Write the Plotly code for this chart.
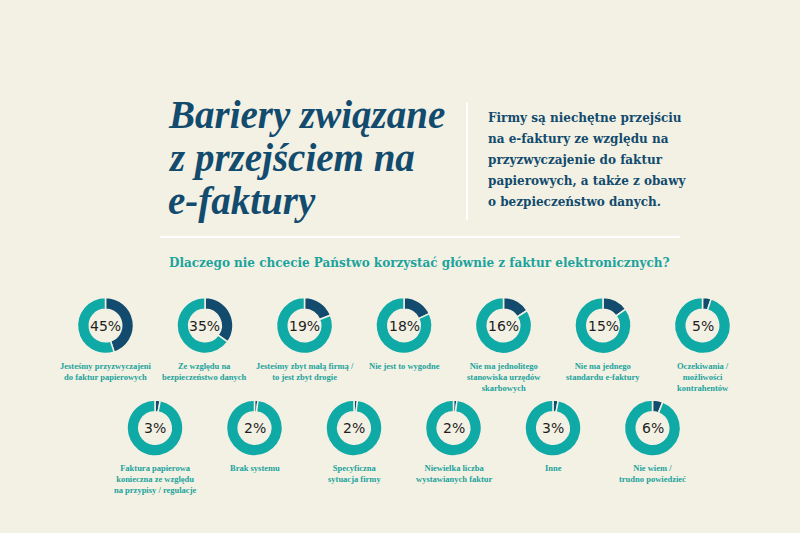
import plotly.graph_objects as go

W, H = 800, 533

# data
title_lines = ["Bariery związane", "z przejściem na", "e-faktury"]
intro_lines = ["Firmy są niechętne przejściu",
               "na e-faktury ze względu na",
               "przyzwyczajenie do faktur",
               "papierowych, a także z obawy",
               "o bezpieczeństwo danych."]
question = "Dlaczego nie chcecie Państwo korzystać głównie z faktur elektronicznych?"

labels = ["Jesteśmy przyzwyczajeni<br>do faktur papierowych",
          "Ze względu na<br>bezpieczeństwo danych",
          "Jesteśmy zbyt małą firmą /<br>to jest zbyt drogie",
          "Nie jest to wygodne",
          "Nie ma jednolitego<br>stanowiska urzędów<br>skarbowych",
          "Nie ma jednego<br>standardu e-faktury",
          "Oczekiwania /<br>możliwości<br>kontrahentów",
          "Faktura papierowa<br>konieczna ze względu<br>na przypisy / regulacje",
          "Brak systemu",
          "Specyficzna<br>sytuacja firmy",
          "Niewielka liczba<br>wystawianych faktur",
          "Inne",
          "Nie wiem /<br>trudno powiedzieć"]
values = [45, 35, 19, 18, 16, 15, 5, 3, 2, 2, 2, 3, 6]

BG = "#f3f1e4"
TEAL = "#10aaa6"
NAVY = "#124b6d"
LABEL = "#1ba39c"


def px(x):
    return x / W


def py(y):
    return 1 - y / H


fig = go.Figure()
annotations = []

R = 28
for i, (lab, v) in enumerate(zip(labels, values)):
    if i < 7:
        cx, cy = 105.5 + 99.5 * i, 325.5
    else:
        cx, cy = 155 + 99.5 * (i - 7), 428
    fig.add_trace(go.Pie(
        values=[v, 100 - v],
        marker=dict(colors=[NAVY, TEAL], line=dict(color=BG, width=1.5)),
        hole=0.58, sort=False, direction="clockwise", rotation=0,
        textinfo="none", hoverinfo="skip", showlegend=False,
        domain=dict(x=[px(cx - R), px(cx + R)], y=[py(cy + R), py(cy - R)]),
    ))
    annotations.append(dict(x=px(cx), y=py(cy), text=f"{v}%", showarrow=False,
                            xanchor="center", yanchor="middle",
                            font=dict(family="DejaVu Sans", size=14, color="#1e1e1e")))
    annotations.append(dict(x=px(cx), y=py(cy + 33), text=lab, showarrow=False,
                            xanchor="center", yanchor="top", align="center",
                            font=dict(family="Liberation Serif", size=8.5, color=LABEL,
                                      weight="bold")))

for k, line in enumerate(title_lines):
    annotations.append(dict(x=px(166), y=py(115 + 43 * k), text=line, showarrow=False,
                            xanchor="left", yanchor="middle",
                            font=dict(family="Liberation Serif", size=39, color=NAVY,
                                      weight="bold", style="italic")))

for k, line in enumerate(intro_lines):
    annotations.append(dict(x=px(486), y=py(118 + 21 * k), text=line, showarrow=False,
                            xanchor="left", yanchor="middle",
                            font=dict(family="DejaVu Serif", size=12, color=NAVY,
                                      weight="bold")))

annotations.append(dict(x=px(167), y=py(263), text=question, showarrow=False,
                        xanchor="left", yanchor="middle",
                        font=dict(family="DejaVu Serif", size=12, color=LABEL,
                                  weight="bold")))

fig.update_layout(
    width=W, height=H,
    margin=dict(l=0, r=0, t=0, b=0),
    paper_bgcolor=BG, plot_bgcolor=BG,
    annotations=annotations,
    shapes=[
        dict(type="line", xref="paper", yref="paper", x0=px(467), x1=px(467),
             y0=py(103), y1=py(220), line=dict(color="white", width=2)),
        dict(type="line", xref="paper", yref="paper", x0=px(160), x1=px(680),
             y0=py(237), y1=py(237), line=dict(color="white", width=2)),
    ],
)

fig.write_html("out.html", config={"displayModeBar": False},
               post_script="document.body.style.margin='0';")
